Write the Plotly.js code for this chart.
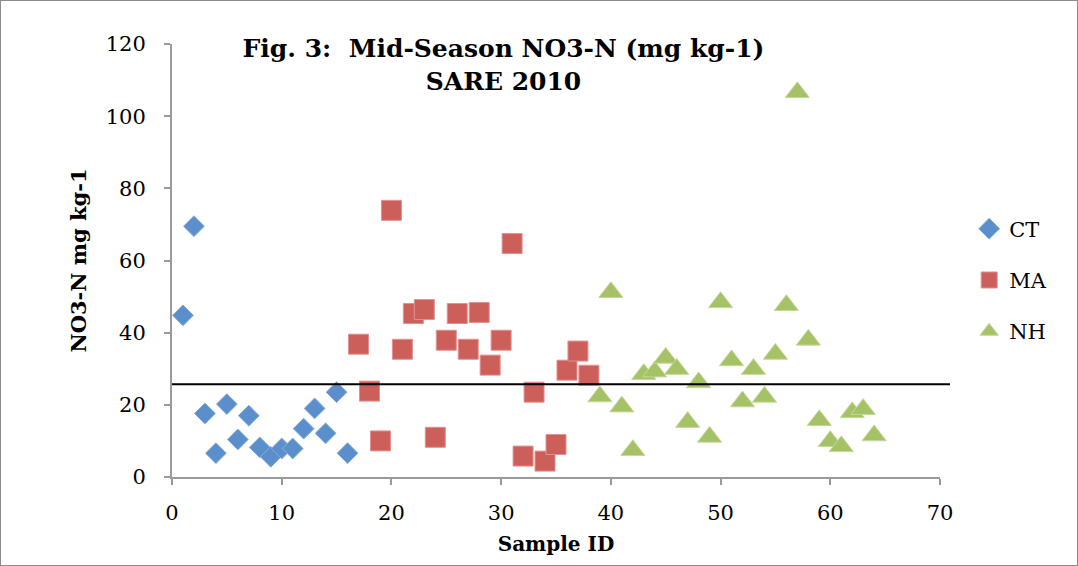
<!DOCTYPE html>
<html>
<head>
<meta charset="utf-8">
<script src="https://cdn.plot.ly/plotly-3.0.1.min.js"></script>
<style>
html,body{margin:0;padding:0;background:#fff;}
#chart{width:1076px;height:564px;border:1px solid #8c8c8c;}
</style>
</head>
<body>
<div id="chart"></div>
<script>
// Sample IDs and NO3-N values (mg kg-1) by state
const ctX = [1,2,3,4,5,6,7,8,9,10,11,12,13,14,15,16];
const ctY = [44.8,69.5,17.6,6.6,20.2,10.4,17,8.2,5.6,7.9,7.9,13.4,19,12.1,23.5,6.6];
const maX = [17,18,19,20,21,22,23,24,25,26,27,28,29,30,31,32,33,34,35,36,37,38];
const maY = [36.8,23.8,10,73.9,35.4,45.3,46.4,11,37.9,45.3,35.4,45.6,31,37.9,64.7,5.8,23.5,4.4,9,29.6,34.9,28.2];
const nhX = [39,40,41,42,43,44,45,46,47,48,49,50,51,52,53,54,55,56,57,58,59,60,61,62,63,64];
const nhY = [22.3,51.2,19.5,7.4,28.5,29.2,33,29.9,15.2,26.2,11.1,48.4,32.3,20.9,29.9,22.2,34.1,47.6,106.6,38,15.7,9.9,8.5,17.9,18.8,11.5];
const threshold = 25.7;
const seriesNames = ["CT","MA","NH"];
const xTicks = [0,10,20,30,40,50,60,70];
const yTicks = [0,20,40,60,80,100,120];

const serif = "DejaVu Serif, serif";

const traces = [
  {x: ctX, y: ctY, name: seriesNames[0], legendgroup: "a", type: "scatter", mode: "markers",
   marker: {symbol: "diamond", size: 16, color: "#5B8FCC", line: {color: "#86ACDA", width: 1}}},
  {x: maX, y: maY, name: seriesNames[1], legendgroup: "b", type: "scatter", mode: "markers",
   marker: {symbol: "square", size: 20, color: "#CD5F5B", line: {color: "#E19290", width: 1}}},
  {x: nhX, y: nhY, name: seriesNames[2], legendgroup: "c", type: "scatter", mode: "markers",
   marker: {symbol: "triangle-up", size: 21, color: "#A5C266", line: {color: "#C5D89C", width: 1}}}
];

const axisCommon = {
  showgrid: false, zeroline: false, showline: true, linecolor: "#9a9a9a", linewidth: 2,
  ticks: "outside", ticklen: 6, tickwidth: 2, tickcolor: "#9a9a9a",
  tickfont: {family: serif, size: 21, color: "#000"}
};

const layout = {
  width: 1076, height: 564,
  margin: {l: 171, r: 137, t: 43, b: 88, pad: 0},
  paper_bgcolor: "#fff", plot_bgcolor: "#fff",
  title: {
    text: "<b>Fig. 3:  Mid-Season NO3-N (mg kg-1)<br>SARE 2010</b>",
    font: {family: serif, size: 25, color: "#000"},
    x: 0.467, xref: "container", xanchor: "center",
    y: 0.9, yref: "container", yanchor: "top"
  },
  xaxis: Object.assign({}, axisCommon, {
    range: [0, 70], tickvals: xTicks, ticktext: xTicks.map(String), ticklabelstandoff: 10,
    title: {text: "<b>Sample ID</b>", font: {family: serif, size: 20, color: "#000"}, standoff: 13}
  }),
  yaxis: Object.assign({}, axisCommon, {
    range: [0, 120], tickvals: yTicks, ticktext: yTicks.map(String), ticklabelstandoff: 14,
    title: {text: "<b>NO3-N mg kg-1</b>", font: {family: serif, size: 21, color: "#000"}, standoff: 13}
  }),
  shapes: [{
    type: "line", xref: "paper", yref: "y", x0: 0, x1: 1.013, y0: threshold, y1: threshold,
    line: {color: "#000", width: 2}
  }],
  legend: {
    x: 1.038, xanchor: "left", y: 0.62, yanchor: "top",
    font: {family: serif, size: 21, color: "#000"},
    tracegroupgap: 21, itemwidth: 30, bgcolor: "rgba(0,0,0,0)"
  },
  showlegend: true
};

Plotly.newPlot("chart", traces, layout, {displayModeBar: false, staticPlot: true});
</script>
</body>
</html>
